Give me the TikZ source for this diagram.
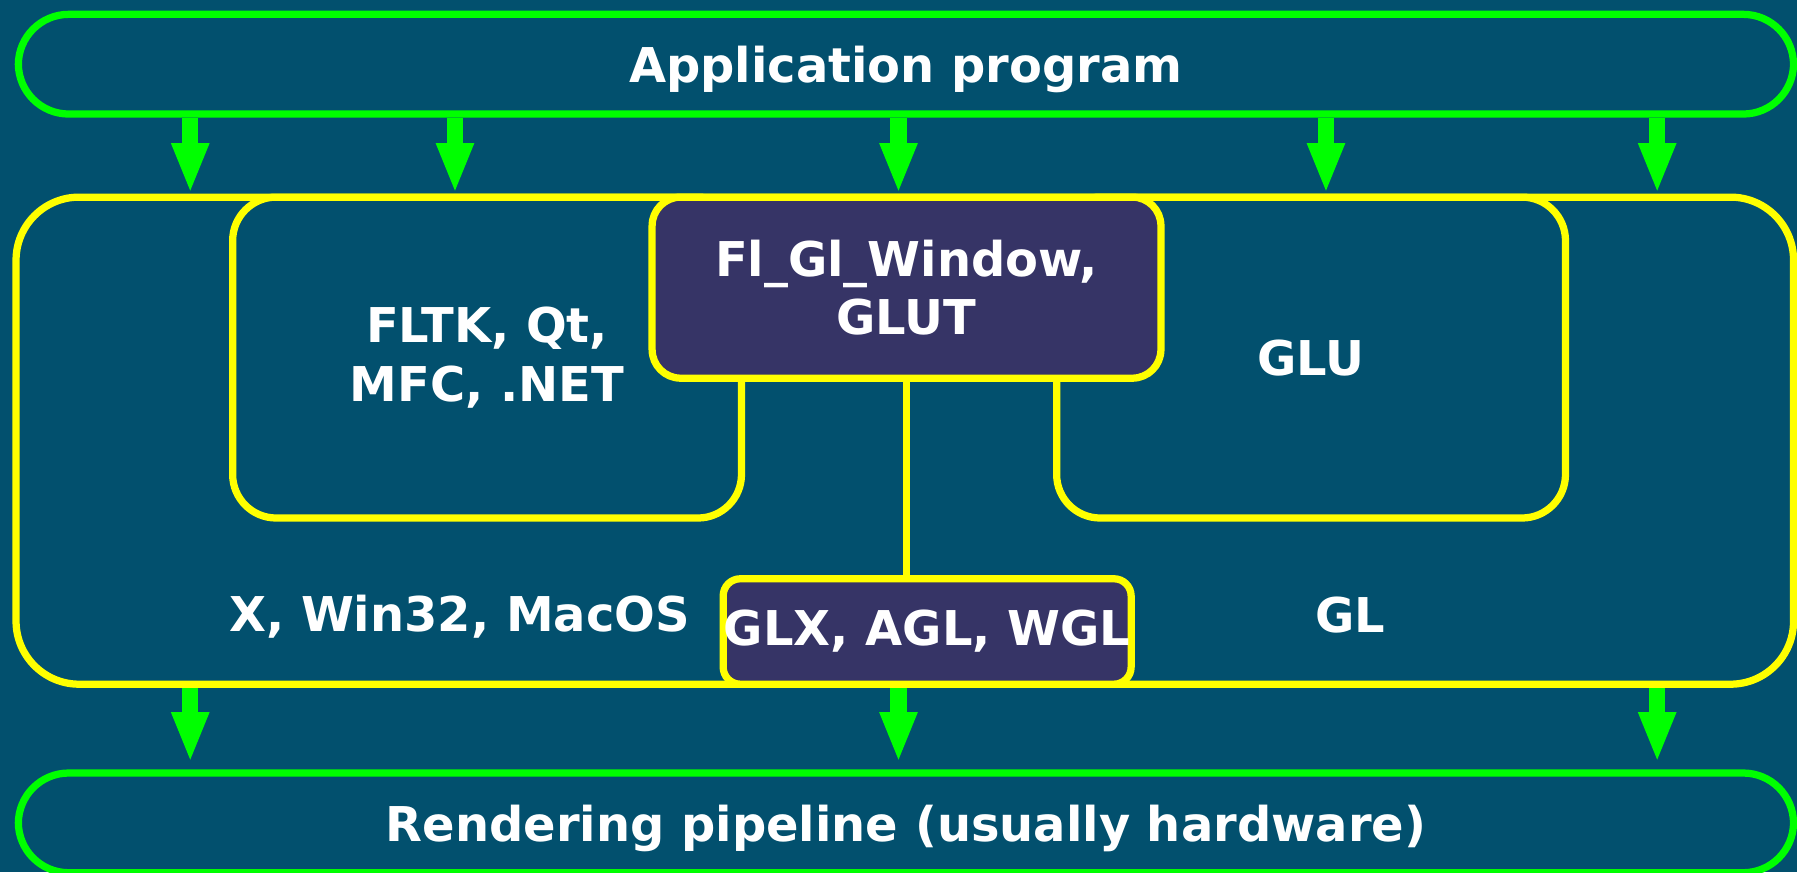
\documentclass[tikz,border=0pt]{standalone}
\usepackage{fontspec}
\setmainfont{DejaVu Sans}
\usetikzlibrary{arrows.meta,positioning}
\definecolor{slidebg}{HTML}{02506E}
\definecolor{apifill}{HTML}{363466}
\definecolor{flowgreen}{HTML}{00FF00}
\definecolor{partyellow}{HTML}{FFFF00}

\begin{document}
\begin{tikzpicture}
		[x=0.1mm, y=-0.1mm,
		every node/.style={font=\bfseries\fontsize{11.9}{14.5}\selectfont, text=white, align=center},
		layer/.style={draw=flowgreen, line width=1.8pt, rounded corners=4.4mm, minimum width=154.9mm, minimum height=8.7mm, text depth=0pt},
		part/.style={draw=partyellow, line width=1.8pt},
		api/.style={part, fill=apifill},
		flow/.style={flowgreen, line width=1.4mm, -{Triangle[width=3mm,length=4.4mm]}}]
		\useasboundingbox (0,0) rectangle (1568,761);
		\fill[slidebg] (0,0) rectangle (1568,761);

		% the two green layers
		\node[layer] (app) at (790.5,56) {Application program};
		\node[layer] (pipe) at (790.5,718) {Rendering pipeline (usually hardware)};

		% system part with its toolkits
		\node[part, rounded corners=5.5mm, minimum width=155.1mm, minimum height=42.5mm] (sys) at (789.5,384.5) {};
		\node[part, rounded corners=3.8mm, minimum width=44.4mm, minimum height=28mm] (fltk) at (425,312) {FLTK, Qt,\\MFC, .NET};
		\node[part, rounded corners=3.8mm, minimum width=44.4mm, minimum height=28mm] (glu) at (1144,312) {GLU};
		\node (os) at (401,538) {X, Win32, MacOS};
		\node (gl) at (1178,537) {GL};

		\node[api, rounded corners=2.5mm, minimum width=44.4mm, minimum height=15.8mm] (window) at (791,251) {Fl\_Gl\_Window,\\GLUT};
		\node[api, rounded corners=1.5mm, minimum width=35.6mm, minimum height=9.2mm, inner sep=0pt] (glx) at (809,551) {GLX, AGL, WGL};
		\draw[part] (window.south) -- (window.south |- glx.north);

		\foreach \ax in {166,397,784,1157,1446}
			\draw[flow] (\ax,0 |- app.south) -- (\ax,0 |- sys.north);
		\foreach \ax in {166,784,1446}
			\draw[flow, shorten >=0.6mm] (\ax,0 |- sys.south) -- (\ax,0 |- pipe.north);
	\end{tikzpicture}
\end{document}
